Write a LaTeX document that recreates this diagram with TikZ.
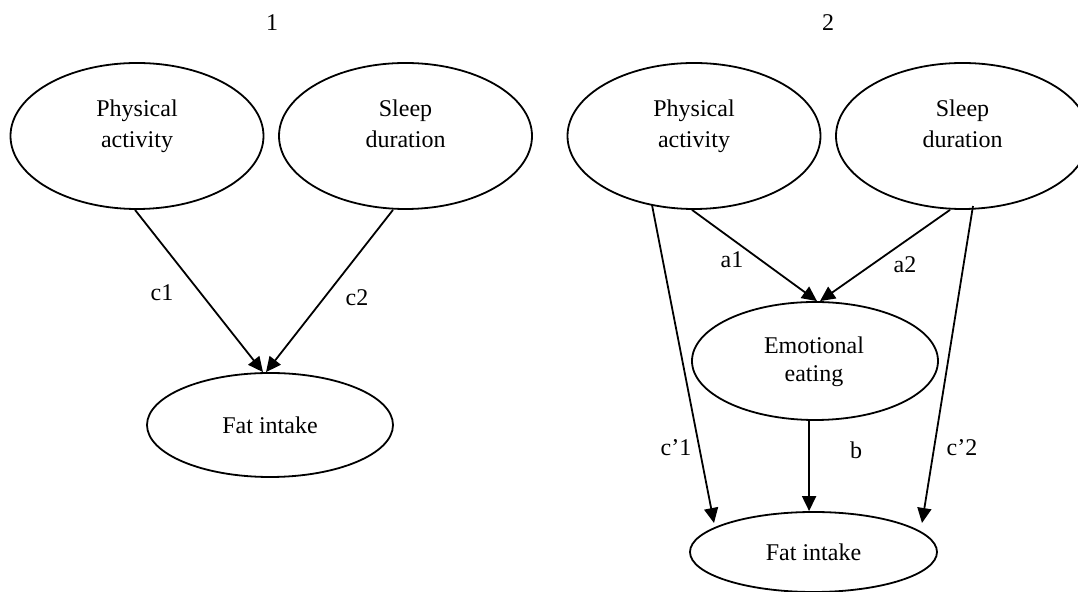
\documentclass[tikz,border=0pt]{standalone}
\usepackage{fontspec}
\setmainfont{Liberation Serif}
\usetikzlibrary{shapes.geometric,arrows.meta}
\begin{document}
\begin{tikzpicture}[x=0.5pt,y=-0.5pt,
  var/.style={draw,line width=0.9pt,ellipse,inner sep=0pt,font=\fontsize{12}{14}\selectfont,align=center},
  big/.style={var,minimum width=126.5pt,minimum height=73pt},
  fat/.style={var,minimum width=123pt,minimum height=52pt},
  fatb/.style={var,minimum width=123.5pt,minimum height=40pt},
  emo/.style={var,minimum width=123pt,minimum height=59pt},
  arr/.style={line width=0.9pt,-{Triangle[length=7.5pt,width=7pt]}},
  lab/.style={font=\fontsize{12}{14}\selectfont,inner sep=0pt},
  two/.style={lab,align=center,anchor=north,font=\fontsize{12}{15.5}\selectfont},
  panel/.style={font=\fontsize{12}{14}\selectfont,inner sep=0pt}]
\useasboundingbox (0,0) rectangle (1078,592);
% panel 1
\node[panel] (t1) at (272,23) {1};
\node[big] (pa1) at (137,136) {};
\node[two] (pa1t) at (137,99) {Physical\\activity};
\node[big] (sd1) at (405.5,136) {};
\node[two] (sd1t) at (405.5,99) {Sleep\\duration};
\node[fat] (fi1) at (270,425) {Fat intake};
\draw[arr] ([xshift=-1pt]pa1.south) -- ([xshift=-3.5pt]fi1.north);
\draw[arr] ([xshift=-6.25pt]sd1.south) -- ([xshift=-2pt]fi1.north);
\node[lab] (c1) at (162,293) {c1};
\node[lab] (c2) at (357,298) {c2};
% panel 2
\node[panel] (t2) at (828,23) {2};
\node[big] (pa2) at (694,136) {};
\node[two] (pa2t) at (694,99) {Physical\\activity};
\node[big] (sd2) at (962.5,136) {};
\node[two] (sd2t) at (962.5,99) {Sleep\\duration};
\node[emo] (ee) at (815,361) {};
\node[two,font=\fontsize{12}{14}\selectfont] (eet) at (814,336) {Emotional\\eating};
\node[fatb] (fi2) at (813.5,552) {Fat intake};
\coordinate (pc) at (652,205);
\coordinate (sc) at (973,206);
\coordinate (fl) at (714,523);
\coordinate (fr) at (922,523);
\draw[arr] ([xshift=-1pt]pa2.south) -- ([xshift=1pt]ee.north);
\draw[arr] ([xshift=-6.25pt]sd2.south) -- ([xshift=2.5pt]ee.north);
\draw[arr] (pc) -- (fl);
\draw[arr] (sc) -- (fr);
\draw[arr] ([xshift=-3pt]ee.south) -- ([xshift=-2.2pt]fi2.north);
\node[lab] (a1) at (732,260) {a1};
\node[lab] (a2) at (905,265) {a2};
\node[lab] (cp1) at (676,448) {c’1};
\node[lab] (b) at (856,450) {b};
\node[lab] (cp2) at (962,448) {c’2};
\end{tikzpicture}
\end{document}
